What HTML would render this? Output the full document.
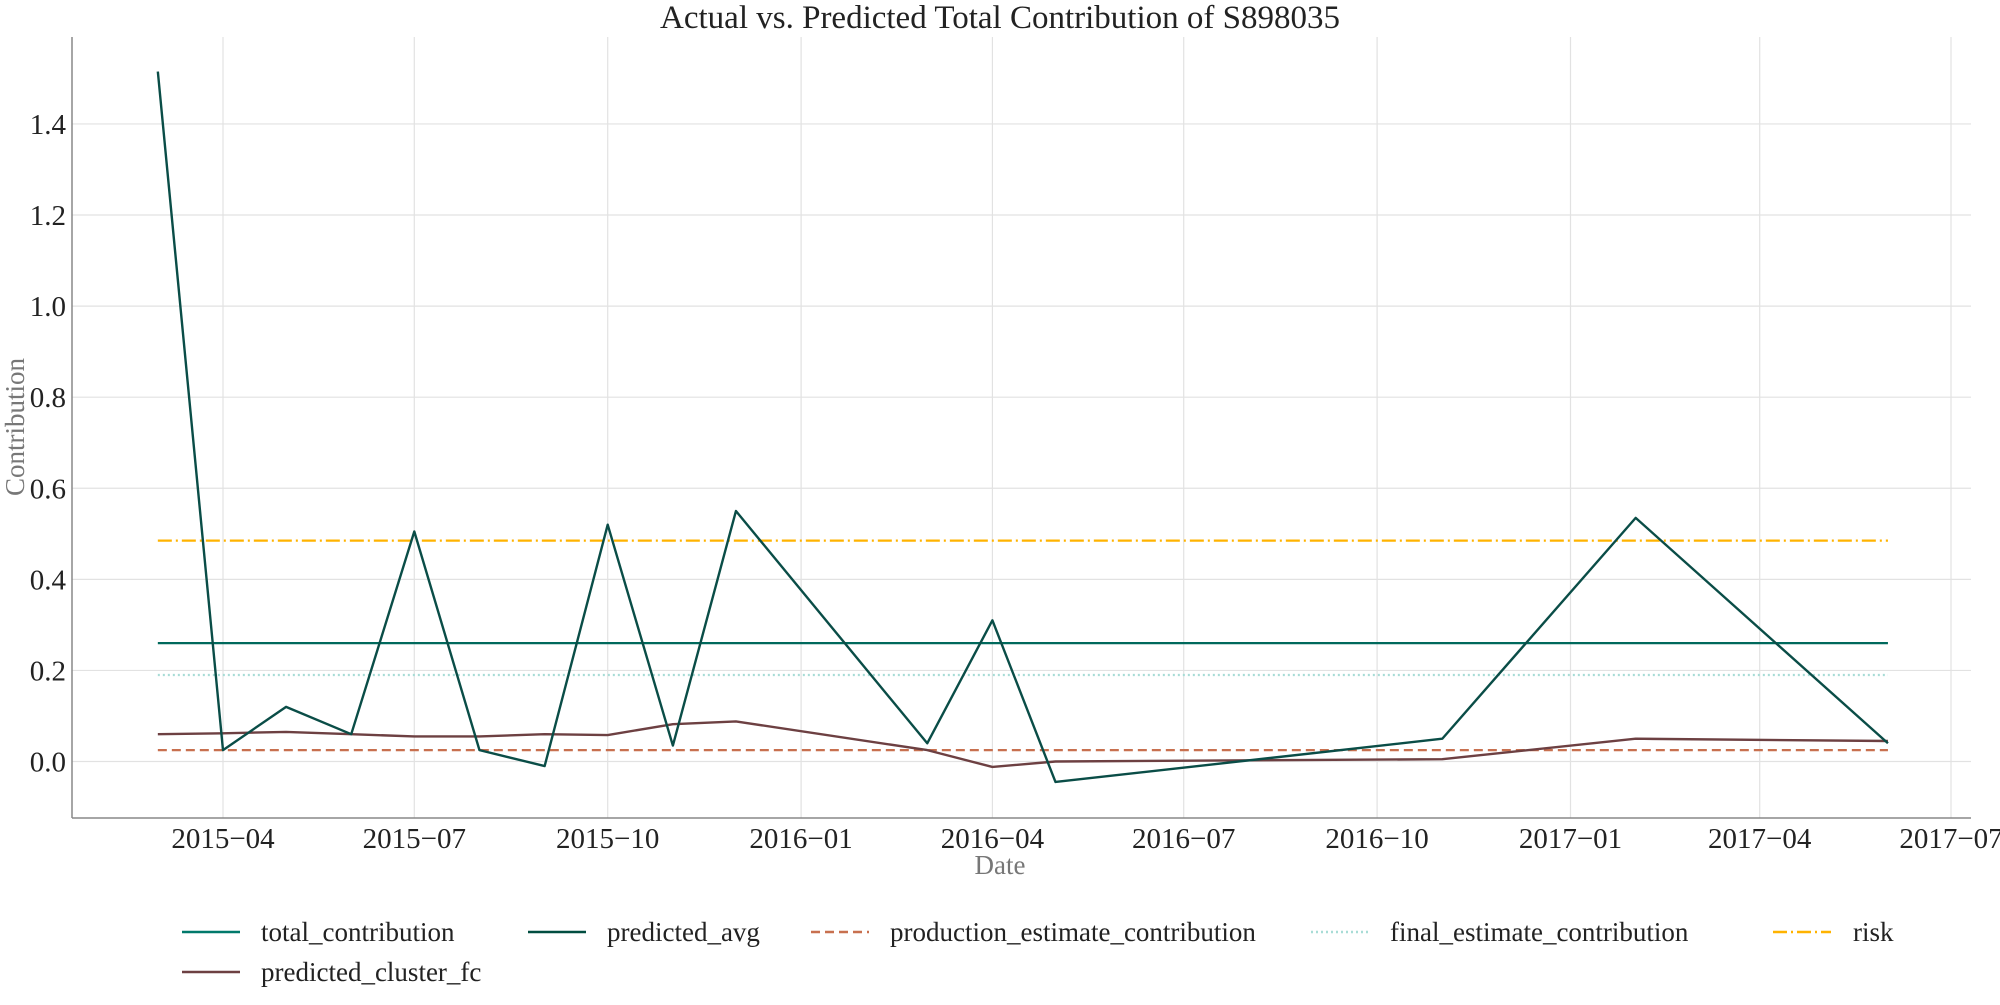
<!DOCTYPE html>
<html><head><meta charset="utf-8"><style>
body{margin:0;background:#fff}
svg text{font-family:"Liberation Serif",serif;fill:#222}
</style></head><body>
<svg id="chart" width="2000" height="1000" xmlns="http://www.w3.org/2000/svg">
<text x="1000" y="28" font-size="33" text-anchor="middle">Actual vs. Predicted Total Contribution of S898035</text>
<g id="grid"></g>
<g id="series"></g>
<line x1="72" y1="37" x2="72" y2="818" stroke="#888" stroke-width="1.5"/>
<line x1="72" y1="818" x2="1971" y2="818" stroke="#888" stroke-width="1.5"/>
<g id="ticks"></g>
<text x="1000" y="874" font-size="27" style="fill:#777" text-anchor="middle">Date</text>
<text transform="translate(24,427) rotate(-90)" font-size="27" style="fill:#777" text-anchor="middle">Contribution</text>
<g id="legend"></g>
</svg>
<script>
const dates=["2015-03-01","2015-04-01","2015-05-01","2015-06-01","2015-07-01","2015-08-01","2015-09-01","2015-10-01","2015-11-01","2015-12-01","2016-03-01","2016-04-01","2016-05-01","2016-11-01","2017-02-01","2017-06-01"];
const totalContribution=[1.515,0.025,0.12,0.06,0.505,0.025,-0.01,0.52,0.035,0.55,0.04,0.31,-0.045,0.05,0.535,0.04];
const predictedClusterFc=[0.06,0.062,0.065,0.06,0.055,0.055,0.06,0.058,0.082,0.088,0.025,-0.012,0,0.005,0.05,0.045];
const predictedAvg=0.26;
const productionEstimate=0.025;
const finalEstimate=0.19;
const risk=0.485;
const yTicks=[0,0.2,0.4,0.6,0.8,1.0,1.2,1.4];
const xTicks=["2015-04","2015-07","2015-10","2016-01","2016-04","2016-07","2016-10","2017-01","2017-04","2017-07"];

const NS="http://www.w3.org/2000/svg";
const t0=Date.UTC(2015,3,1);
function xs(d){const p=d.split("-");const t=Date.UTC(+p[0],+p[1]-1,p[2]?+p[2]:1);return 223+(t-t0)/86400000*2.1022;}
function ys(v){return 761.5-v*455.4;}
function mk(tag,attrs,parent){const e=document.createElementNS(NS,tag);for(const k in attrs)e.setAttribute(k,attrs[k]);parent.appendChild(e);return e;}
const grid=document.getElementById("grid"),ticks=document.getElementById("ticks"),series=document.getElementById("series"),legend=document.getElementById("legend");
yTicks.forEach(v=>{
  const l=mk("line",{x1:72,x2:1971,y1:ys(v),y2:ys(v),stroke:"#e2e2e2","stroke-width":1.2},grid);
  
  
  const t=mk("text",{x:66,y:ys(v)+10,"font-size":29,"text-anchor":"end"},ticks);
  
  
  t.textContent=v.toFixed(1);
});
xTicks.forEach(d=>{
  const x=xs(d);
  const l=mk("line",{x1:x,x2:x,y1:37,y2:818,stroke:"#e2e2e2","stroke-width":1.2},grid);
  
  
  const t=mk("text",{x:x,y:848,"font-size":29,"text-anchor":"middle"},ticks);
  
  
  t.textContent=d.replace("-","\u2212");
});
const x0=xs(dates[0]),x1=xs(dates[dates.length-1]);
function hline(v,color,dash,name){
  const l=mk("line",{x1:x0,x2:x1,y1:ys(v),y2:ys(v),stroke:color,"stroke-width":2.2,"stroke-dasharray":dash},series);
  
  
}
function pline(vals,color,name){
  const p=mk("polyline",{points:vals.map((v,i)=>xs(dates[i])+","+ys(v)).join(" "),fill:"none",stroke:color,"stroke-width":2.4,"stroke-linejoin":"round"},series);
  
  
}
hline(finalEstimate,"#a8dcd6","2,3","final-estimate-line");
hline(productionEstimate,"#c8704f","9,5","production-estimate-line");
hline(risk,"#ffb300","14,4,2,4","risk-line");
hline(predictedAvg,"#00695c","none","predicted-avg-line");
pline(predictedClusterFc,"#6d4042","predicted-cluster-fc-line");
pline(totalContribution,"#0a4d47","total-contribution-line");
const entries=[
 ["total_contribution","#00796b","none",182,261,932],
 ["predicted_avg","#004d40","none",528,607,932],
 ["production_estimate_contribution","#c8704f","9,5",811,890,932],
 ["final_estimate_contribution","#a8dcd6","2,3",1311,1390,932],
 ["risk","#ffb300","14,4,2,4",1773,1853,932],
 ["predicted_cluster_fc","#6d4042","none",182,261,972]];
entries.forEach(e=>{
  const g=mk("g",{},legend);
  
  
  mk("line",{x1:e[3],x2:e[3]+58,y1:e[5],y2:e[5],stroke:e[1],"stroke-width":2.4,"stroke-dasharray":e[2]},g);
  const t=mk("text",{x:e[4],y:e[5]+9,"font-size":27},g);
  t.textContent=e[0];
});
</script>
</body></html>
